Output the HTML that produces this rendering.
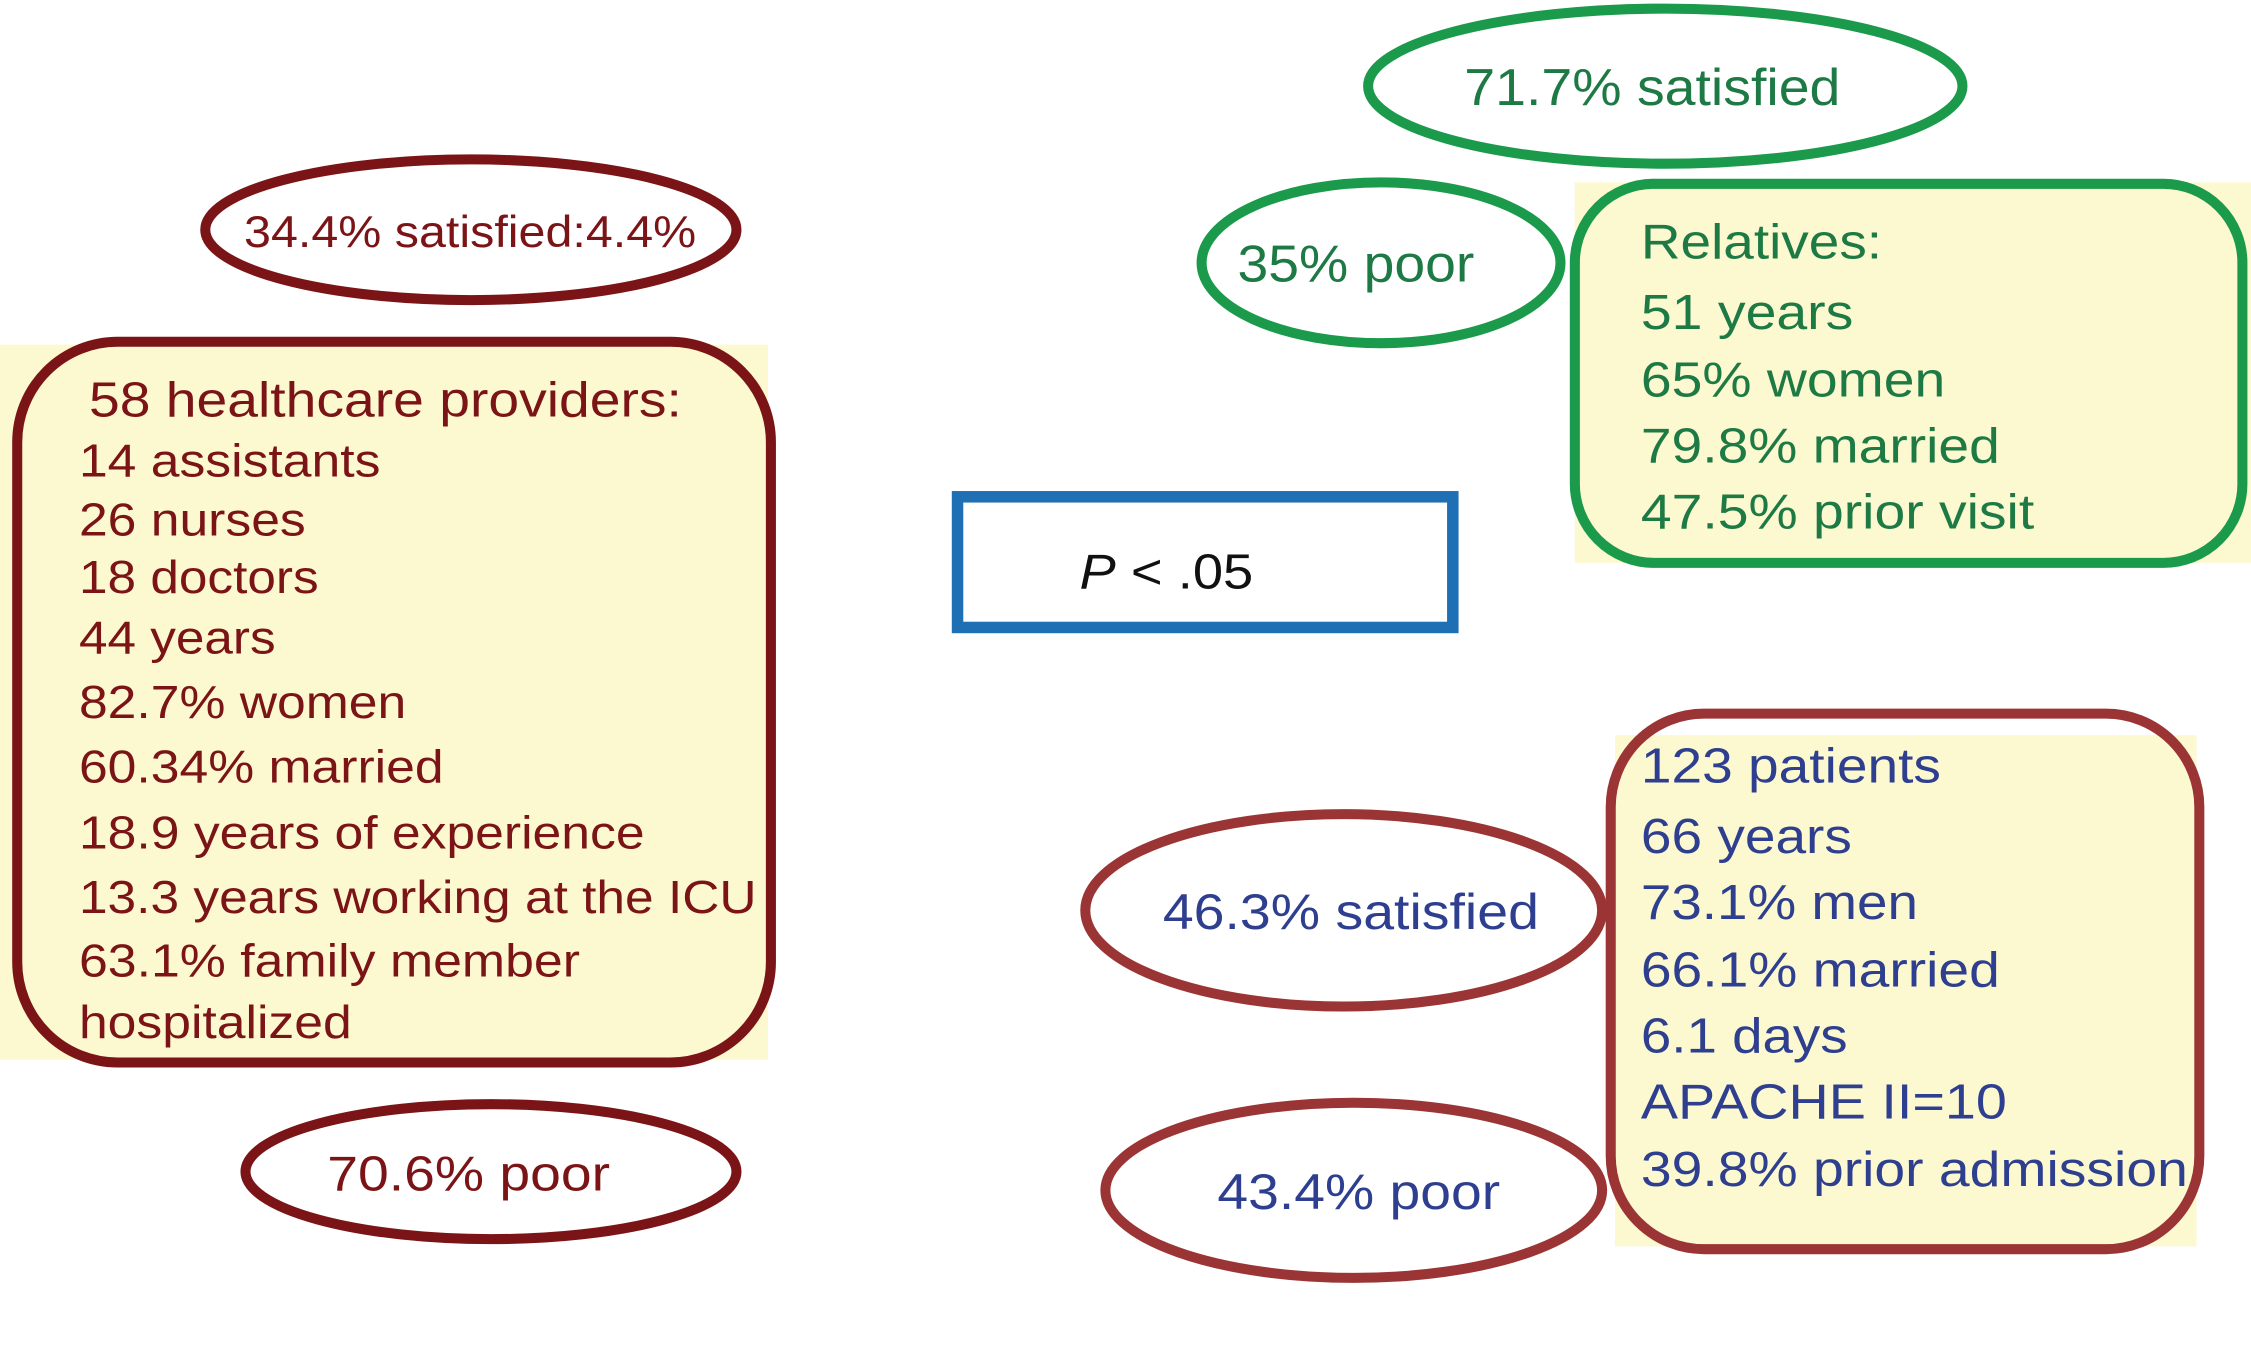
<!DOCTYPE html>
<html><head><meta charset="utf-8"><style>
html,body{margin:0;padding:0;background:#fff;width:2251px;height:1354px;overflow:hidden}
svg{display:block}
text{font-family:"Liberation Sans",sans-serif}
</style></head><body>
<svg width="2251" height="1354" viewBox="0 0 1568 943" preserveAspectRatio="none" xmlns="http://www.w3.org/2000/svg">
<g>
<rect x="0" y="240" width="535" height="498" fill="#fcf8cf"/>
<rect x="12" y="238" width="525" height="502" rx="70" fill="none" stroke="#7b1416" stroke-width="7"/>
<g fill="#7b1416" font-size="32" lengthAdjust="spacingAndGlyphs">
<text x="62" y="290" font-size="34" textLength="413" lengthAdjust="spacingAndGlyphs">58 healthcare providers:</text>
<text x="55" y="332" textLength="210" lengthAdjust="spacingAndGlyphs">14 assistants</text>
<text x="55" y="373" textLength="158" lengthAdjust="spacingAndGlyphs">26 nurses</text>
<text x="55" y="413" textLength="167" lengthAdjust="spacingAndGlyphs">18 doctors</text>
<text x="55" y="455" textLength="137" lengthAdjust="spacingAndGlyphs">44 years</text>
<text x="55" y="500" textLength="228" lengthAdjust="spacingAndGlyphs">82.7% women</text>
<text x="55" y="545" textLength="254" lengthAdjust="spacingAndGlyphs">60.34% married</text>
<text x="55" y="591" textLength="394" lengthAdjust="spacingAndGlyphs">18.9 years of experience</text>
<text x="55" y="636" textLength="472" lengthAdjust="spacingAndGlyphs">13.3 years working at the ICU</text>
<text x="55" y="680" textLength="349" lengthAdjust="spacingAndGlyphs">63.1% family member</text>
<text x="55" y="723" textLength="190" lengthAdjust="spacingAndGlyphs">hospitalized</text>
</g>
<ellipse cx="328" cy="160" rx="185" ry="49" fill="none" stroke="#7b1416" stroke-width="7"/>
<text x="170" y="172" font-size="31" fill="#7b1416" textLength="315" lengthAdjust="spacingAndGlyphs">34.4% satisfied:4.4%</text>
<ellipse cx="342" cy="816" rx="171" ry="47" fill="none" stroke="#7b1416" stroke-width="7"/>
<text x="228" y="829" font-size="34" fill="#7b1416" textLength="197" lengthAdjust="spacingAndGlyphs">70.6% poor</text>
</g>
<g>
<rect x="667" y="346" width="345" height="91" fill="none" stroke="#1f6fb4" stroke-width="8"/>
<text x="752" y="410" font-size="34" fill="#111" textLength="121" lengthAdjust="spacingAndGlyphs"><tspan font-style="italic">P</tspan> &lt; .05</text>
</g>
<g>
<ellipse cx="1160" cy="60" rx="207" ry="54" fill="none" stroke="#1a9a4a" stroke-width="7"/>
<text x="1020" y="73" font-size="36" fill="#1d7a44" textLength="262" lengthAdjust="spacingAndGlyphs">71.7% satisfied</text>
<ellipse cx="962" cy="183" rx="125" ry="56" fill="none" stroke="#1a9a4a" stroke-width="7"/>
<text x="862" y="196" font-size="36" fill="#1d7a44" textLength="165" lengthAdjust="spacingAndGlyphs">35% poor</text>
<rect x="1097" y="127" width="471" height="265" fill="#fcf8cf"/>
<rect x="1097" y="128" width="465" height="264" rx="55" fill="none" stroke="#1a9a4a" stroke-width="7"/>
<g fill="#1d7a44" font-size="34">
<text x="1143" y="180" textLength="168" lengthAdjust="spacingAndGlyphs">Relatives:</text>
<text x="1143" y="229" textLength="148" lengthAdjust="spacingAndGlyphs">51 years</text>
<text x="1143" y="276" textLength="212" lengthAdjust="spacingAndGlyphs">65% women</text>
<text x="1143" y="322" textLength="250" lengthAdjust="spacingAndGlyphs">79.8% married</text>
<text x="1143" y="368" textLength="274" lengthAdjust="spacingAndGlyphs">47.5% prior visit</text>
</g>
</g>
<g>
<rect x="1125" y="512" width="405" height="356" fill="#fcf8cf"/>
<rect x="1122" y="497" width="410" height="373" rx="65" fill="none" stroke="#9b3535" stroke-width="7"/>
<g fill="#2e3f8f" font-size="34">
<text x="1143" y="545" textLength="209" lengthAdjust="spacingAndGlyphs">123 patients</text>
<text x="1143" y="594" textLength="147" lengthAdjust="spacingAndGlyphs">66 years</text>
<text x="1143" y="640" textLength="193" lengthAdjust="spacingAndGlyphs">73.1% men</text>
<text x="1143" y="687" textLength="250" lengthAdjust="spacingAndGlyphs">66.1% married</text>
<text x="1143" y="733" textLength="144" lengthAdjust="spacingAndGlyphs">6.1 days</text>
<text x="1143" y="779" textLength="255" lengthAdjust="spacingAndGlyphs">APACHE II=10</text>
<text x="1143" y="826" textLength="381" lengthAdjust="spacingAndGlyphs">39.8% prior admission</text>
</g>
<ellipse cx="936" cy="634" rx="180" ry="67" fill="none" stroke="#9b3535" stroke-width="7"/>
<text x="810" y="647" font-size="35" fill="#2e3f8f" textLength="262" lengthAdjust="spacingAndGlyphs">46.3% satisfied</text>
<ellipse cx="943" cy="829" rx="173" ry="61" fill="none" stroke="#9b3535" stroke-width="7"/>
<text x="848" y="842" font-size="35" fill="#2e3f8f" textLength="197" lengthAdjust="spacingAndGlyphs">43.4% poor</text>
</g>
</svg>
</body></html>
